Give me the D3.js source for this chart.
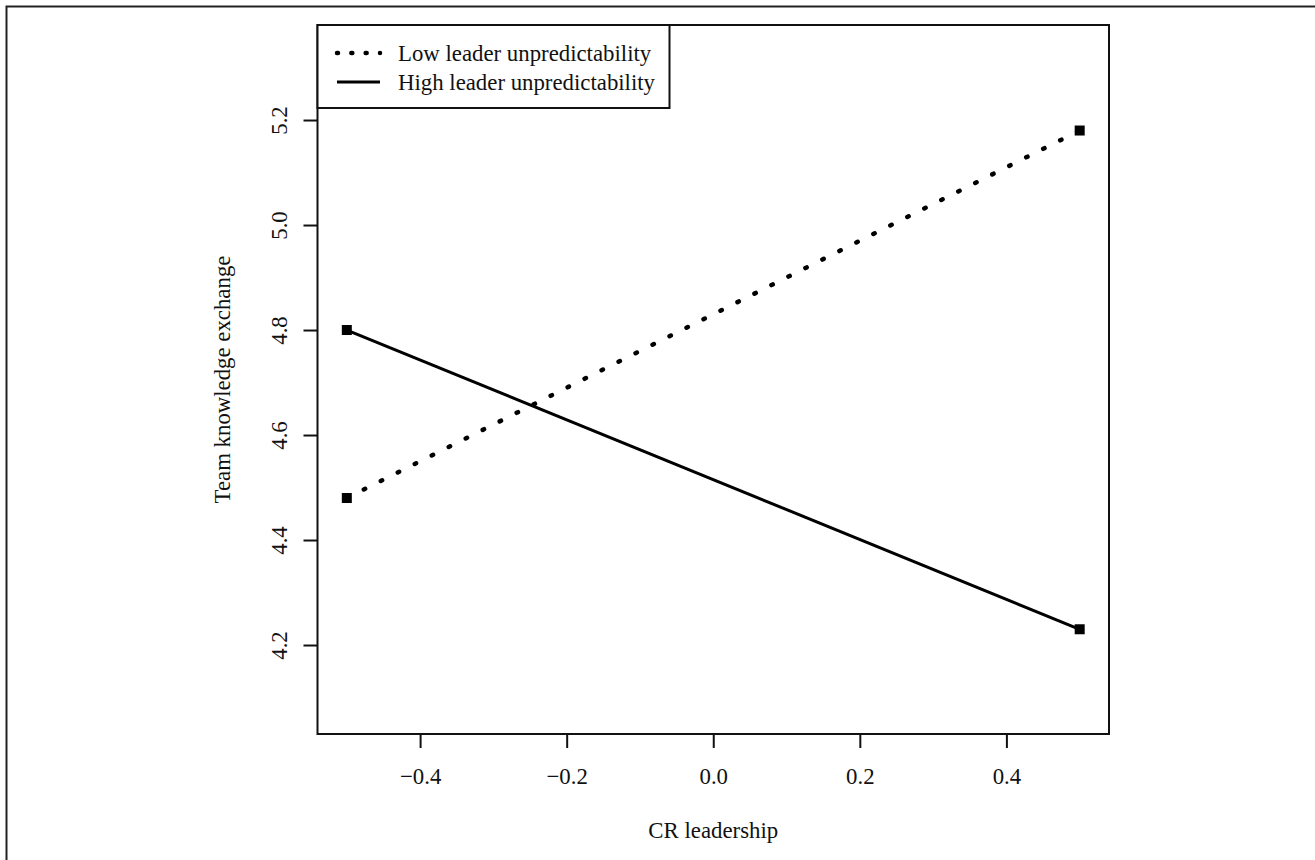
<!DOCTYPE html>
<html>
<head>
<meta charset="utf-8">
<script src="https://cdn.jsdelivr.net/npm/d3@7"></script>
<style>
  body{margin:0;background:#fff;}
  svg{display:block;}
  text{font-family:"Liberation Serif","Times New Roman",serif;fill:#111;}
</style>
</head>
<body>
<svg id="chart" width="1315" height="860"></svg>
<script>
//data---------------------------
var xLevels=[-0.5,0.5];
var lowValues=[4.48,5.18];
var highValues=[4.80,4.23];
var seriesNames=['Low leader unpredictability','High leader unpredictability'];
var xTicks=[-0.4,-0.2,0.0,0.2,0.4];
var yTicks=[4.2,4.4,4.6,4.8,5.0,5.2];

var svg=d3.select('#chart');
// plot region (avoid the name "top", it is window.top)
var pLeft=317.5,pRight=1109,pTop=25,pBottom=734;
var fsize='22.8px';

var x=d3.scaleLinear().domain([-0.54,0.54]).range([pLeft,pRight]);
var y=d3.scaleLinear().domain([4.0305,5.381]).range([pBottom,pTop]);
var fmt=d3.format('.1f');

// outer frame running off the page
svg.append('rect')
  .attr('x',6.5).attr('y',6.5)
  .attr('width',1400).attr('height',1000)
  .attr('fill','none').attr('stroke','#222').attr('stroke-width',2);

// axes
var xa=svg.append('g').attr('transform','translate(0,'+pBottom+')')
  .call(d3.axisBottom(x).tickValues(xTicks).tickFormat(fmt).tickSize(14));
xa.select('.domain').remove();
xa.selectAll('line').attr('stroke','#111').attr('stroke-width',2);
xa.selectAll('text').attr('y',50).attr('dy',0).style('font-size',fsize);

var ya=svg.append('g').attr('transform','translate('+pLeft+',0)')
  .call(d3.axisLeft(y).tickValues(yTicks).tickFormat(fmt).tickSize(14));
ya.select('.domain').remove();
ya.selectAll('line').attr('stroke','#111').attr('stroke-width',2);
ya.selectAll('text')
  .attr('x',0).attr('dy',0)
  .attr('text-anchor','middle')
  .attr('transform','translate(-30.5,0) rotate(-90)')
  .style('font-size',fsize);

// plot box
svg.append('rect')
  .attr('x',pLeft).attr('y',pTop)
  .attr('width',pRight-pLeft).attr('height',pBottom-pTop)
  .attr('fill','none').attr('stroke','#111').attr('stroke-width',2);

// titles
svg.append('text')
  .attr('x',(pLeft+pRight)/2).attr('y',838)
  .attr('text-anchor','middle').style('font-size',fsize)
  .text('CR leadership');
svg.append('text')
  .attr('transform','translate(230,'+((pTop+pBottom)/2)+') rotate(-90)')
  .attr('text-anchor','middle').style('font-size',fsize)
  .text('Team knowledge exchange');

// lines
var line=d3.line().x((d,i)=>x(xLevels[i])).y(d=>y(d));
svg.append('path').datum(lowValues)
  .attr('d',line).attr('fill','none').attr('stroke','#000')
  .attr('stroke-width',4.5).attr('stroke-linecap','round')
  .attr('stroke-dasharray','1.5 17.5');
svg.append('path').datum(highValues)
  .attr('d',line).attr('fill','none').attr('stroke','#000')
  .attr('stroke-width',3);

// square markers
[lowValues,highValues].forEach((vals)=>{
  svg.selectAll(null).data(vals).enter().append('rect')
    .attr('x',(d,i)=>x(xLevels[i])-5)
    .attr('y',d=>y(d)-5)
    .attr('width',10).attr('height',10)
    .attr('fill','#000');
});

// legend
var lg=svg.append('g');
lg.append('rect')
  .attr('x',pLeft).attr('y',pTop)
  .attr('width',352).attr('height',83)
  .attr('fill','#fff').attr('stroke','#111').attr('stroke-width',2);
var rows=[53,82];
seriesNames.forEach((name,i)=>{
  var s=lg.append('line')
    .attr('x1',337).attr('x2',380)
    .attr('y1',rows[i]).attr('y2',rows[i])
    .attr('stroke','#000');
  if(i==0){
    s.attr('stroke-width',4.5).attr('stroke-linecap','round').attr('stroke-dasharray','1 13.33');
  }else{
    s.attr('stroke-width',3);
  }
  lg.append('text')
    .attr('x',398).attr('y',rows[i]).attr('dy','0.33em')
    .style('font-size',fsize)
    .text(name);
});
</script>
</body>
</html>
